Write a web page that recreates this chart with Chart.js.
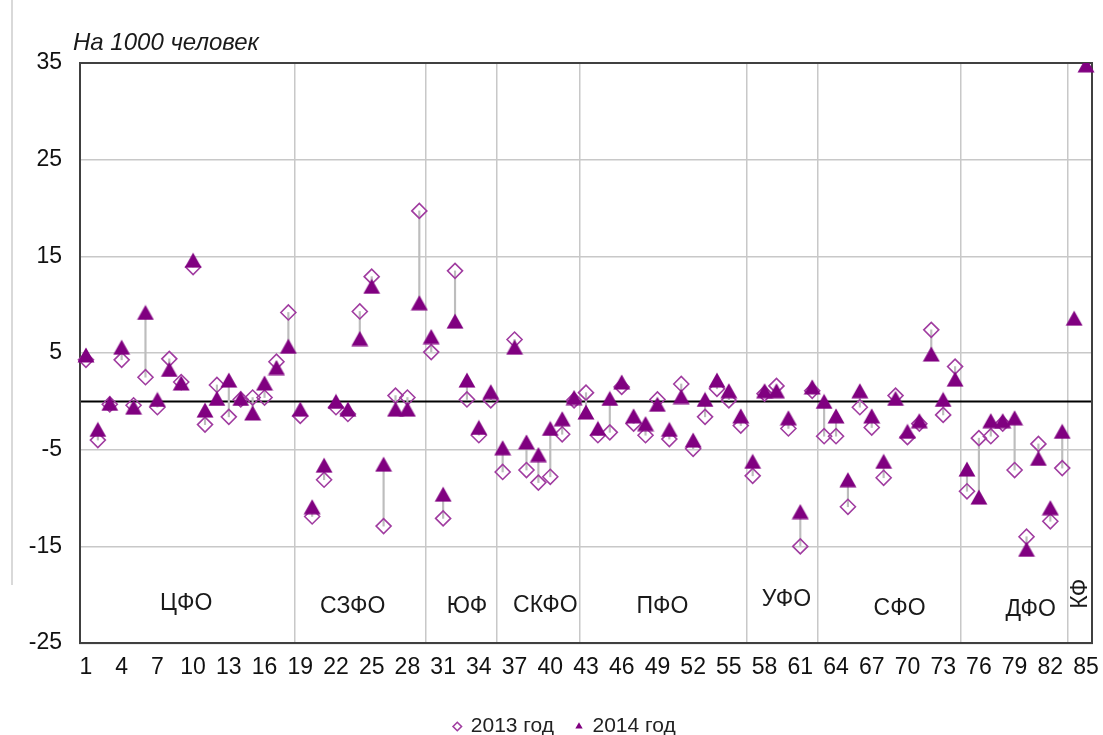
<!DOCTYPE html>
<html><head><meta charset="utf-8">
<script src="https://cdn.jsdelivr.net/npm/chart.js@4.4.1/dist/chart.umd.min.js"></script>
<style>html,body{margin:0;padding:0;background:#fff;overflow:hidden}</style>
</head><body>
<canvas id="c" width="1103" height="735"></canvas>
<script>
// ---------- DATA ----------
const categories = ['1','2','3','4','5','6','7','8','9','10','11','12','13','14','15','16','17','18','19','20',
'21','22','23','24','25','26','27','28','29','30','31','32','33','34','35','36','37','38','39','40',
'41','42','43','44','45','46','47','48','49','50','51','52','53','54','55','56','57','58','59','60',
'61','62','63','64','65','66','67','68','69','70','71','72','73','74','75','76','77','78','79','80',
'81','82','83','84','85'];
const tickLabels = ['1','4','7','10','13','16','19','22','25','28','31','34','37','40','43','46','49','52','55','58','61','64','67','70','73','76','79','82','85'];
const values2013 = [4.3,-4.0,-0.3,4.3,-0.4,2.5,-0.6,4.4,2.0,13.9,
-2.4,1.7,-1.6,0.2,0.4,0.4,4.1,9.2,-1.5,-11.9,
-8.1,-0.6,-1.3,9.3,12.9,-12.9,0.6,0.4,19.7,5.1,
-12.1,13.5,0.2,-3.5,0.1,-7.3,6.4,-7.1,-8.4,-7.8,
-3.4,0.1,0.9,-3.5,-3.2,1.5,-2.3,-3.5,0.2,-3.9,
1.8,-4.9,-1.6,1.3,0.1,-2.5,-7.7,0.8,1.6,-2.8,
-15.0,1.1,-3.6,-3.6,-10.9,-0.6,-2.7,-7.9,0.6,-3.7,
-2.3,7.4,-1.4,3.6,-9.3,-3.8,-3.6,-2.3,-7.1,-14.0,
-4.4,-12.4,-6.9,null,null];
const values2014 = [4.8,-2.9,-0.2,5.6,-0.6,9.2,0.2,3.3,1.9,14.6,
-0.9,0.3,2.2,0.3,-1.2,1.9,3.5,5.7,-0.8,-10.9,
-6.6,0.0,-0.8,6.5,11.9,-6.5,-0.8,-0.8,10.2,6.7,
-9.6,8.3,2.2,-2.7,1.0,-4.8,5.6,-4.2,-5.5,-2.8,
-1.8,0.4,-1.1,-2.8,0.3,2.0,-1.5,-2.3,-0.3,-2.9,
0.5,-4.0,0.2,2.2,1.1,-1.5,-6.2,1.1,1.1,-1.7,
-11.4,1.5,0.0,-1.5,-8.1,1.1,-1.5,-6.2,0.3,-3.1,
-2.0,4.9,0.2,2.3,-7.0,-9.9,-2.0,-2.0,-1.7,-15.3,
-5.9,-11.0,-3.1,8.6,34.8];
const regionNames = ['ЦФО','СЗФО','ЮФ','СКФО','ПФО','УФО','СФО','ДФО','КФ'];
const regionSizes = [18,11,6,7,14,6,12,9,2];
const seriesNames = ['2013 год','2014 год'];

// ---------- STYLE / LAYOUT ----------
const FONT = '"Liberation Sans", Arial, sans-serif';
const PURPLE = '#800080';
const DIAMOND = '#a03ca0';
const labelDx = [-1,-7,6,7,-1,4,10,16,1];
const labelY = [-20.9,-21.2,-21.2,-21.1,-21.2,-20.5,-21.4,-21.5,-19.9];
const labelRot = [false,false,false,false,false,false,false,false,true];
const LEGEND_SHIFT = 19;

const boundaries = [];
{ let s = 0; regionSizes.forEach(n => { s += n; boundaries.push(s); }); }

const hiLow = values2013.map((v, i) => (v == null || values2014[i] == null) ? null : [v, values2014[i]]);

// triangle marker centred on its bounding box
const tri = document.createElement('canvas');
tri.width = 18; tri.height = 16;
{ const t = tri.getContext('2d'); t.fillStyle = PURPLE; t.beginPath();
  t.moveTo(9, 0.5); t.lineTo(17.5, 15.5); t.lineTo(0.5, 15.5); t.closePath(); t.fill(); }

const decor = {
  id: 'decor',
  afterLayout(chart) {
    const l = chart.legend;
    if (l) { l.left += LEGEND_SHIFT; l.right += LEGEND_SHIFT; }
  },
  beforeDraw(chart) {
    const ctx = chart.ctx;
    ctx.save();
    ctx.strokeStyle = '#d9d9d9'; ctx.lineWidth = 2;
    ctx.beginPath(); ctx.moveTo(12, 0); ctx.lineTo(12, 585); ctx.stroke();
    ctx.restore();
  },
  beforeDatasetsDraw(chart) {
    const {ctx, chartArea: a, scales: {x, y}} = chart;
    ctx.save();
    const y0 = y.getPixelForValue(0);
    ctx.strokeStyle = '#000'; ctx.lineWidth = 2;
    ctx.beginPath(); ctx.moveTo(a.left, y0); ctx.lineTo(a.right, y0); ctx.stroke();
    ctx.strokeStyle = '#404040'; ctx.lineWidth = 2;
    ctx.strokeRect(a.left, a.top, a.right - a.left, a.bottom - a.top);
    ctx.fillStyle = '#1a1a1a';
    ctx.font = '23px ' + FONT;
    ctx.textAlign = 'center'; ctx.textBaseline = 'middle';
    let start = 0;
    regionNames.forEach((name, i) => {
      const n = regionSizes[i];
      const px = x.getPixelForValue(start + (n - 1) / 2) + labelDx[i];
      const py = y.getPixelForValue(labelY[i]);
      if (labelRot[i]) {
        ctx.save(); ctx.translate(px, py); ctx.rotate(-Math.PI / 2); ctx.fillText(name, 0, 0); ctx.restore();
      } else ctx.fillText(name, px, py);
      start += n;
    });
    ctx.font = 'italic 24px ' + FONT;
    ctx.textAlign = 'left'; ctx.textBaseline = 'alphabetic';
    ctx.fillText('На 1000 человек', a.left - 7, a.top - 13);
    ctx.restore();
  }
};

new Chart(document.getElementById('c'), {
  data: {
    labels: categories,
    datasets: [
      { type: 'bar', label: 'hl', data: hiLow, backgroundColor: '#bdbdbd', barThickness: 1.5, order: 3 },
      { type: 'line', label: seriesNames[0], data: values2013, showLine: false,
        pointStyle: 'rectRot', pointRadius: 7.5, pointBorderWidth: 1.6,
        pointBorderColor: DIAMOND, pointBackgroundColor: 'rgba(255,255,255,0)',
        borderColor: DIAMOND, backgroundColor: 'rgba(255,255,255,0)', order: 2 },
      { type: 'line', label: seriesNames[1], data: values2014, showLine: false,
        pointStyle: tri, pointRadius: 9, pointBorderWidth: 0,
        pointBackgroundColor: PURPLE, borderColor: PURPLE, backgroundColor: PURPLE, order: 1 }
    ]
  },
  options: {
    responsive: false, animation: false, events: [], devicePixelRatio: 1,
    layout: { padding: { left: 0, right: 11, top: 63, bottom: -12 } },
    scales: {
      x: {
        type: 'category', offset: true,
        grid: { offset: true, drawTicks: false, lineWidth: 1.5,
          color: ctx => boundaries.includes(ctx.index) && ctx.index < categories.length ? '#c8c8c8' : 'rgba(0,0,0,0)' },
        border: { display: true, color: '#404040', width: 2 },
        ticks: { autoSkip: false, maxRotation: 0, padding: 11, color: '#111', font: { family: FONT, size: 23 },
          callback: function(v, i) { const l = categories[i]; return tickLabels.includes(l) ? l : ''; } },
        afterFit: s => { s.height = 50.9; s.paddingLeft = 0; s.paddingRight = 0; }
      },
      y: {
        min: -25, max: 35,
        grid: { drawTicks: false, color: '#c8c8c8', lineWidth: 1.5 },
        border: { display: true, color: '#404040', width: 2 },
        ticks: { stepSize: 10, padding: 18, color: '#111', font: { family: FONT, size: 23 } },
        afterFit: s => { s.width = 80; }
      }
    },
    plugins: {
      tooltip: { enabled: false },
      legend: {
        position: 'bottom',
        labels: {
          usePointStyle: true, boxWidth: 6, boxHeight: 6, padding: 22, color: '#222',
          font: { family: FONT, size: 21, lineHeight: 1.1 },
          generateLabels(chart) {
            const items = Chart.defaults.plugins.legend.labels.generateLabels(chart);
            return items.filter(it => it.datasetIndex !== 0)
              .sort((a, b) => a.datasetIndex - b.datasetIndex)
              .map(it => {
                if (it.datasetIndex === 2) { it.pointStyle = 'triangle'; it.fillStyle = PURPLE; it.strokeStyle = PURPLE; it.lineWidth = 0; }
                return it;
              });
          }
        }
      }
    }
  },
  plugins: [decor]
});
</script>
</body></html>
